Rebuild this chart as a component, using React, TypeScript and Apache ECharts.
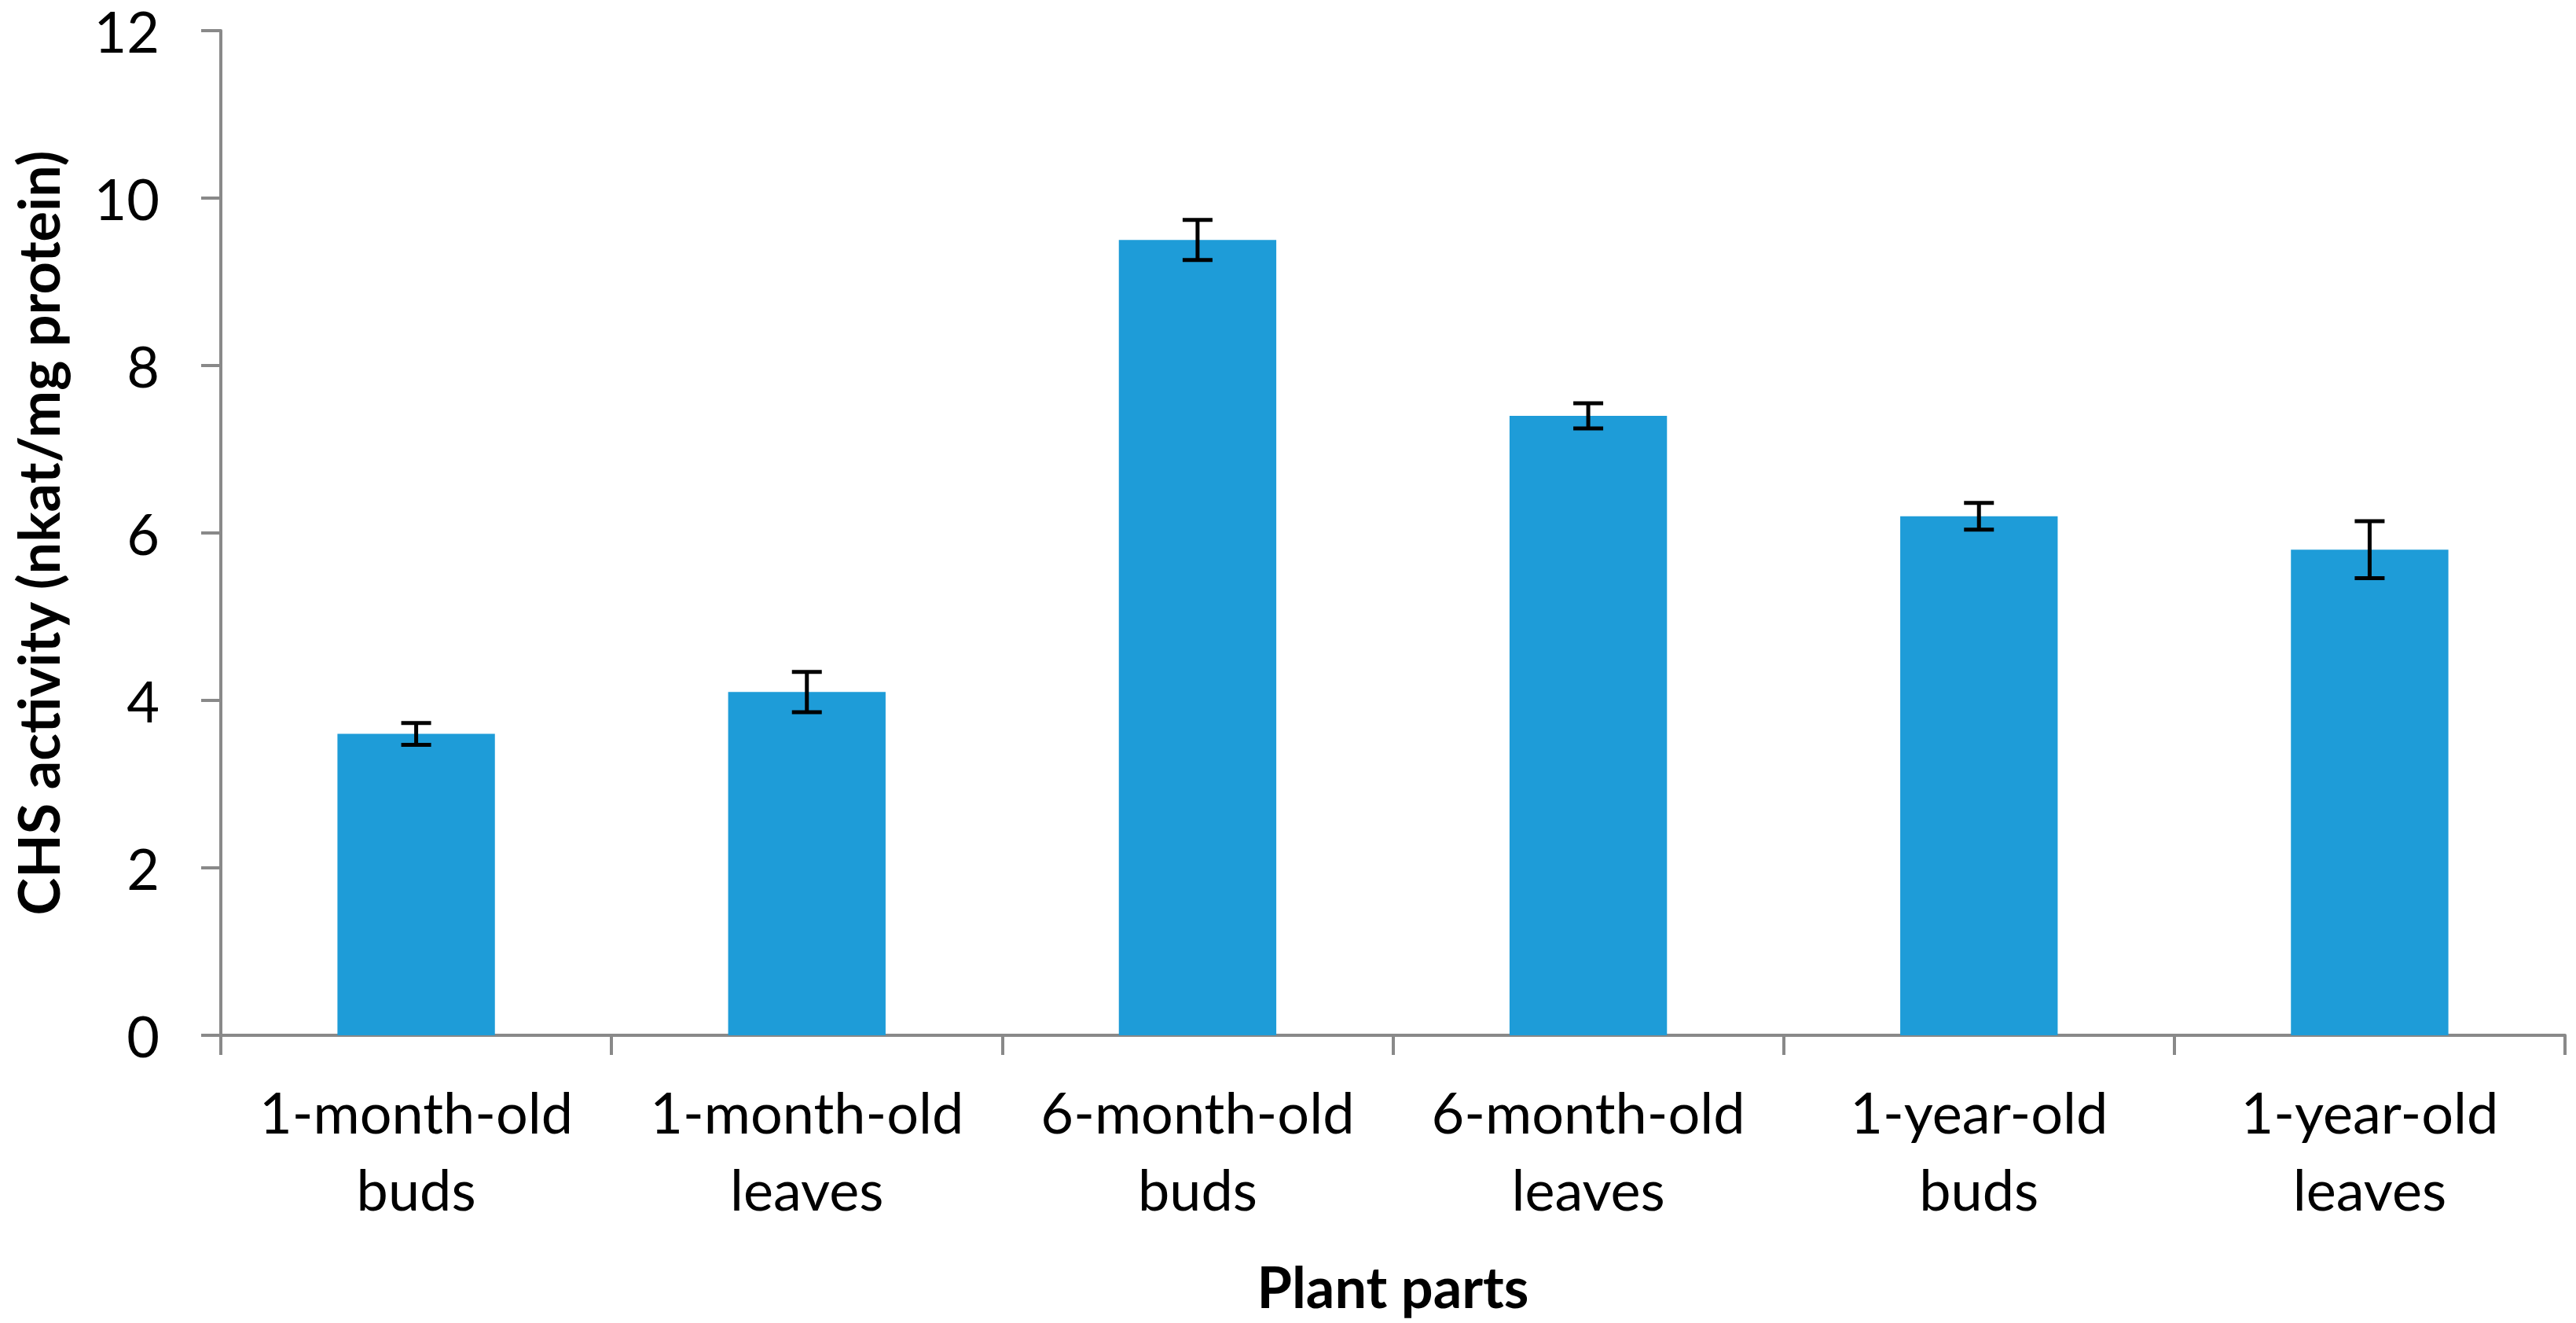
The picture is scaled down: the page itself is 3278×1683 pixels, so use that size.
import React, { useEffect, useRef } from "react";
import * as echarts from "echarts";

const categories = [
  "1-month-old\nbuds",
  "1-month-old\nleaves",
  "6-month-old\nbuds",
  "6-month-old\nleaves",
  "1-year-old\nbuds",
  "1-year-old\nleaves",
];
const activity = [3.6, 4.1, 9.5, 7.4, 6.2, 5.8];
const errors = [0.13, 0.24, 0.24, 0.15, 0.16, 0.34];
const yMin = 0;
const yMax = 12;
const yInterval = 2;
const xTitle = "Plant parts";
const yTitle = "CHS activity (nkat/mg protein)";

const FONT = "Lato";
const AXIS_COLOR = "#898989";
const BAR_COLOR = "#1E9CD8";

export default function App() {
  const ref = useRef<HTMLDivElement>(null);

  useEffect(() => {
    if (!ref.current) return;
    const chart = echarts.init(ref.current, null, { renderer: "svg" });
    const errData = activity.map((v, i) => [i, v - errors[i], v + errors[i]]);
    chart.setOption({
      animation: false,
      backgroundColor: "#ffffff",
      grid: { left: 271, right: 14, top: 39, bottom: 366, containLabel: false },
      xAxis: {
        type: "category",
        data: categories,
        name: xTitle,
        nameLocation: "middle",
        nameGap: 279,
        nameTextStyle: {
          fontFamily: FONT,
          fontSize: 72,
          fontWeight: "bold",
          color: "#000",
          lineHeight: 80,
        },
        axisLine: { show: true, lineStyle: { color: AXIS_COLOR, width: 4 } },
        axisTick: {
          show: true,
          length: 25,
          alignWithLabel: false,
          lineStyle: { color: AXIS_COLOR, width: 4 },
        },
        axisLabel: {
          interval: 0,
          margin: 48,
          fontFamily: FONT,
          fontSize: 72,
          lineHeight: 98,
          color: "#000",
        },
        splitLine: { show: false },
      },
      yAxis: {
        type: "value",
        min: yMin,
        max: yMax,
        interval: yInterval,
        name: yTitle,
        nameLocation: "middle",
        nameGap: 193,
        nameTextStyle: {
          fontFamily: FONT,
          fontSize: 72,
          fontWeight: "bold",
          color: "#000",
          lineHeight: 80,
        },
        axisLine: { show: true, lineStyle: { color: AXIS_COLOR, width: 4 } },
        axisTick: { show: true, length: 25, lineStyle: { color: AXIS_COLOR, width: 4 } },
        axisLabel: {
          margin: 78,
          fontFamily: FONT,
          fontSize: 72,
          lineHeight: 72,
          color: "#000",
        },
        splitLine: { show: false },
      },
      series: [
        {
          type: "bar",
          data: activity,
          barWidth: "40.3%",
          itemStyle: { color: BAR_COLOR },
          z: 2,
        },
        {
          type: "custom",
          data: errData,
          encode: { x: 0, y: [1, 2] },
          z: 3,
          renderItem: (params: any, api: any) => {
            const i = api.value(0);
            const lo = api.value(1);
            const hi = api.value(2);
            const top = api.coord([i, hi]);
            const bot = api.coord([i, lo]);
            const hw = 19;
            const style = { stroke: "#000", lineWidth: 5 };
            return {
              type: "group",
              children: [
                { type: "line", shape: { x1: top[0], y1: top[1], x2: bot[0], y2: bot[1] }, style },
                { type: "line", shape: { x1: top[0] - hw, y1: top[1], x2: top[0] + hw, y2: top[1] }, style },
                { type: "line", shape: { x1: bot[0] - hw, y1: bot[1], x2: bot[0] + hw, y2: bot[1] }, style },
              ],
            };
          },
        },
      ],
    });
    return () => chart.dispose();
  }, []);

  return (
    <div
      ref={ref}
      style={{ position: "absolute", left: 0, top: 0, width: 3278, height: 1683, background: "#fff" }}
    />
  );
}
